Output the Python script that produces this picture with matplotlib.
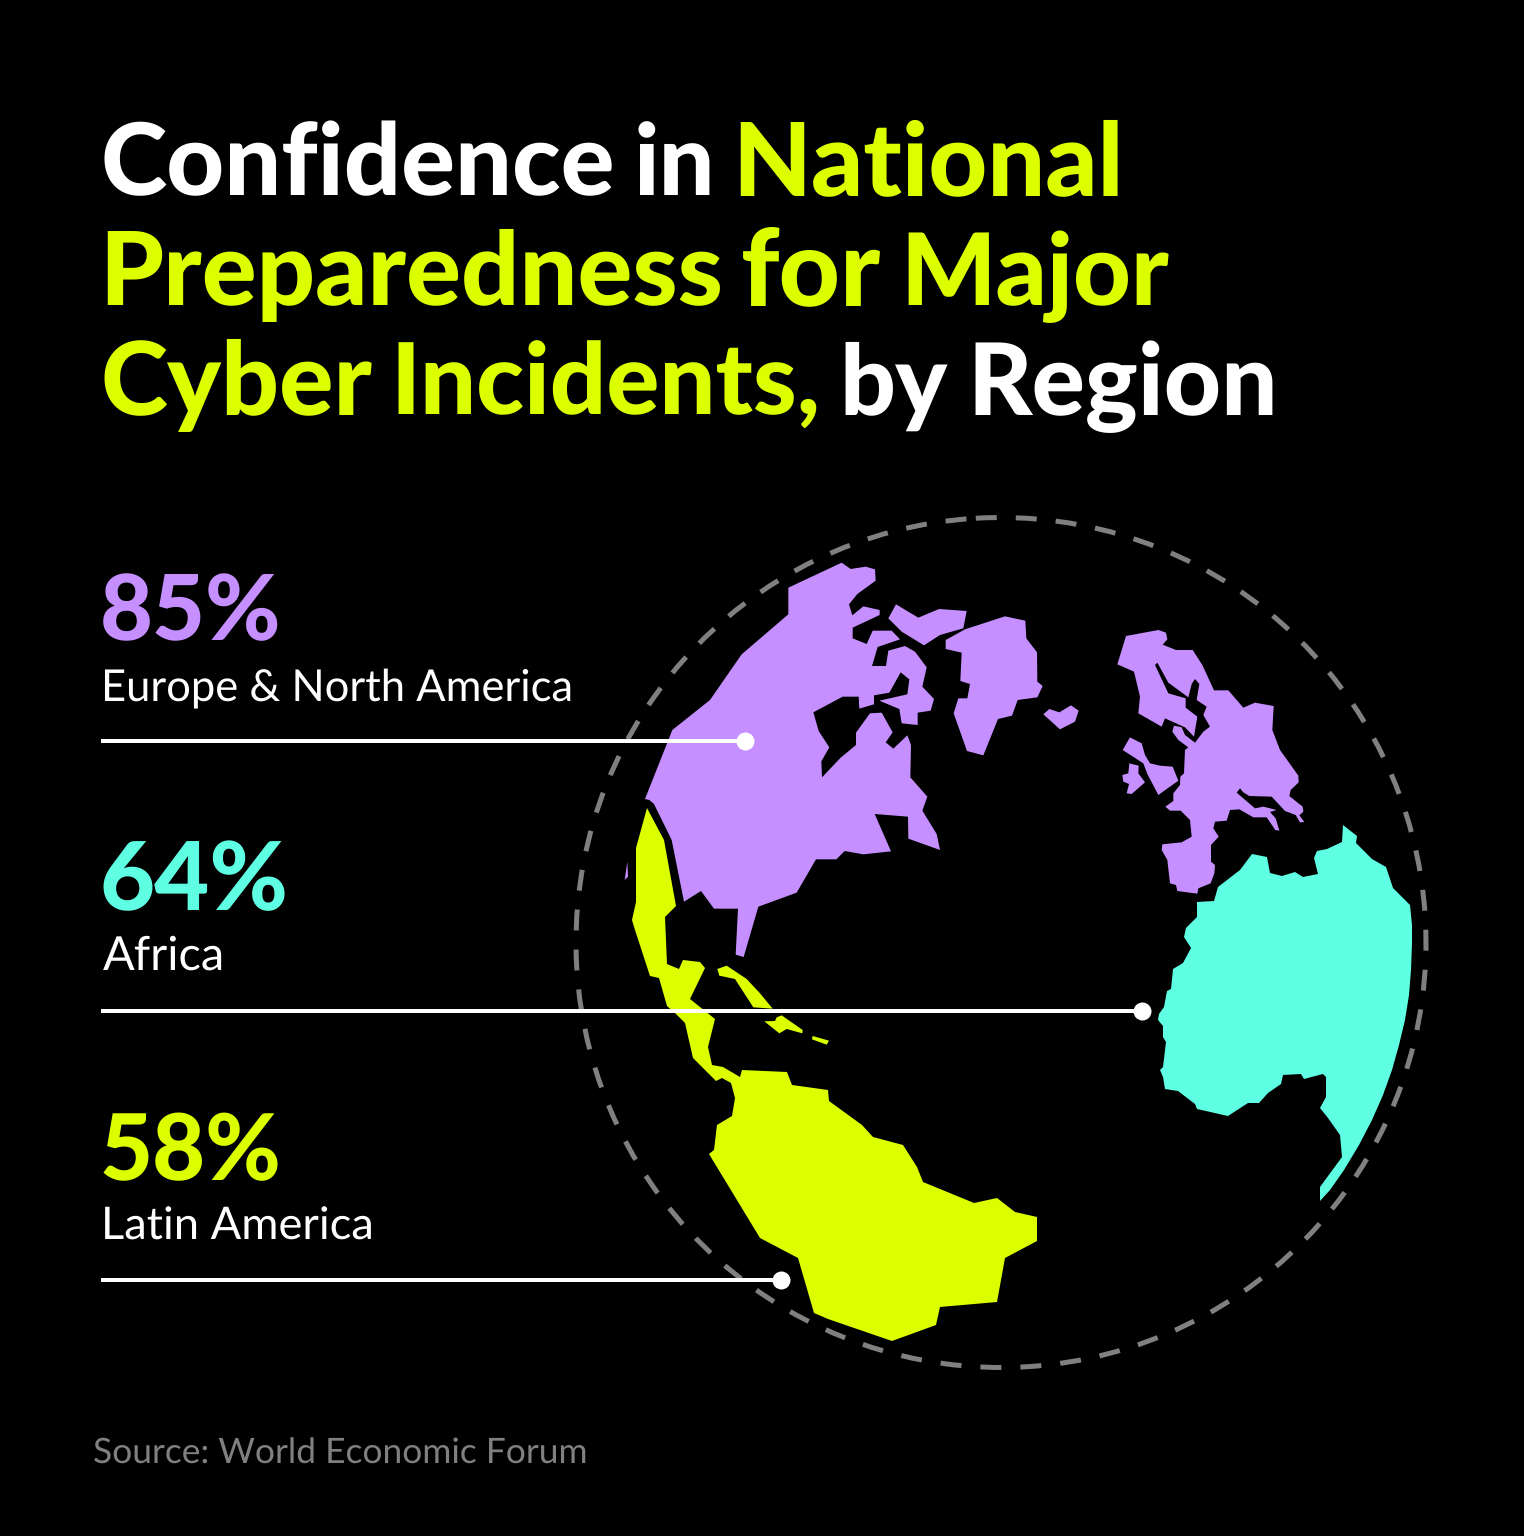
import matplotlib
matplotlib.use('Agg')

import matplotlib.pyplot as plt
from matplotlib.font_manager import FontProperties
from matplotlib.patches import Ellipse, Polygon
from matplotlib.textpath import TextPath

plt.rcParams['font.family'] = ['Lato', 'DejaVu Sans']
plt.rcParams['text.hinting'] = 'no_hinting'

W, H = 1524, 1536
PX = 0.72  # points per pixel at dpi 100

BLACK = '#000000'
WHITE = '#ffffff'
PURPLE = '#c58fff'
TEAL = '#5fffe4'
LIME = '#dcff00'
GREY = '#808080'

regions = ['Europe & North America', 'Africa', 'Latin America']
confidence = [85, 64, 58]
region_colors = [PURPLE, TEAL, LIME]
source = 'Source: World Economic Forum'

# word, left, right, baseline, colour
title_words = [
    ('Confidence', 104, 612, 195, WHITE), ('in', 638, 710, 195, WHITE), ('National', 740, 1118, 195, LIME),
    ('Preparedness', 107, 720, 305, LIME), ('for', 743, 881, 305, LIME), ('Major', 908, 1169, 305, LIME),
    ('Cyber', 104, 372, 415, LIME), ('Incidents,', 398, 817, 415, LIME), ('by', 845, 948, 415, WHITE),
    ('Region', 975, 1273, 415, WHITE),
]

# map outlines (zoomed crops, 3x)
def crop(pts, x0, y0):
    return [(x / 3 + x0, y / 3 + y0) for x, y in pts]

north_america = crop([
    (505,113),(665,38),(692,57),(737,50),(765,58),(767,92),(712,132),(687,163),(697,196),(730,169),
    (779,180),(779,195),(698,233),(698,265),(740,282),(758,242),(815,242),(840,268),(773,291),(756,348),
    (798,348),(805,302),(855,288),(885,305),(920,352),(907,410),(942,447),(932,482),(893,488),(893,525),
    (845,520),(838,477),(778,452),(862,433),(868,388),(842,367),(808,428),(762,436),(762,463),(718,476),
    (716,440),(668,440),(580,487),(596,543),(628,592),(604,634),(606,682),(662,623),(708,585),(708,548),
    (750,490),(785,488),(818,547),(797,577),(820,596),(862,556),(873,585),(871,682),(922,740),(907,782),
    (950,852),(960,900),(865,866),(864,800),(764,792),(813,904),(730,913),(674,903),(649,928),(588,928),
    (530,1028),(415,1070),(371,1221),(347,1214),(354,1076),(282,1076),(243,1023),(192,1055),(155,870),
    (102,762),(88,750),(75,747),(157,540),(270,450),(365,313),(505,193),
], 620, 550)
baffin = crop([
    (805,205),(828,163),(895,203),(957,177),(1040,183),(1030,235),(960,255),(912,286),(845,245),
], 620, 550)
greenland = crop([
    (977,270),(1035,238),(1155,199),(1216,212),(1219,265),(1251,307),(1252,395),(1268,408),(1252,442),
    (1193,450),(1176,497),(1134,507),(1090,616),(1041,603),(1001,490),(1015,445),(1042,445),(1050,402),
    (1021,393),(1025,308),(977,297),
], 620, 550)
sliver = crop([(14,990),(22,935),(24,980)], 620, 550)
iceland = crop([(10,313),(28,297),(58,307),(93,286),(116,302),(105,335),(60,358)], 1040, 610)
europe = crop([
    (258,78),(355,60),(378,68),(382,88),(368,104),(408,120),(458,120),(487,165),(522,241),(565,241),
    (610,293),(645,278),(701,288),(697,360),(720,420),(775,497),(776,517),(752,540),(748,558),(788,590),
    (790,605),(778,616),(793,636),(780,637),(767,615),(735,603),(695,560),(628,558),(610,547),(600,535),
    (590,548),(645,595),(670,590),(710,600),(690,606),(707,625),(718,662),(706,660),(680,622),(640,622),
    (598,598),(570,600),(560,632),(525,635),(520,655),(536,680),(513,705),(513,755),(525,765),(523,790),
    (512,820),(475,835),(472,851),(412,843),(408,825),(390,820),(382,750),(365,720),(367,703),(425,697),
    (455,680),(450,630),(422,602),(390,602),(376,590),(400,573),(400,550),(420,525),(421,500),(432,490),
    (435,420),(445,412),(415,390),(397,365),(402,347),(425,352),(435,375),(465,398),(490,365),(510,350),
    (490,315),(500,290),(470,270),(478,222),(465,207),(455,222),(445,262),(385,218),(352,158),(345,165),
    (385,250),(437,265),(437,293),(472,320),(462,380),(435,352),(375,325),(365,350),(295,310),(300,260),
    (282,185),(232,163),
], 1040, 610)
britain = crop([
    (248,420),(270,382),(305,400),(315,435),(330,460),(360,467),(398,470),(415,512),(355,555),(322,492),(310,460),
], 1040, 610)
ireland = crop([
    (268,460),(296,467),(295,490),(315,517),(275,552),(260,550),(267,522),(250,515),(247,495),(265,490),
], 1040, 610)
africa = [
    (1197,902),(1214,901),(1218,887),(1240,870),(1252,854),(1267,857),(1270,873),(1282,876),(1295,872),
    (1303,877),(1318,874),(1314,858),(1317,851),(1327,849),(1342,842),(1343,825),(1357,836),(1356,843),
    (1372,859),(1386,867),(1393,888),(1410,905),(1412,925),(1412,943),(1411,970),(1409,995),(1405,1020),
    (1399,1045),(1392,1070),(1383,1095),(1372,1120),(1359,1145),(1344,1170),(1330,1190),(1320,1201),
    (1320,1187),(1342,1157),(1340,1135),(1328,1118),(1320,1108),
    (1326,1097),(1326,1077),(1323,1074),(1304,1079),(1301,1074),(1283,1075),(1281,1084),(1268,1093),
    (1259,1103),(1248,1103),(1228,1116),(1197,1109),(1195,1104),(1178,1091),(1165,1089),(1163,1077),
    (1160,1070),(1163,1067),(1166,1042),(1163,1037),(1163,1026),(1158,1020),(1159,1014),(1164,1007),
    (1167,991),(1171,989),(1173,969),(1183,963),(1191,948),(1184,937),(1186,928),(1197,917),
]
latin_america = [
    (647,808),(664,840),(676,906),(665,917),(667,964),(679,969),(683,960),(700,962),(705,968),(690,999),
    (715,1019),(708,1047),(712,1065),(723,1067),(740,1077),(742,1070),(787,1072),(792,1085),(828,1090),
    (829,1101),(862,1125),(873,1137),(903,1145),(917,1167),(923,1182),(974,1203),(997,1198),(1015,1212),
    (1037,1217),(1037,1241),(1005,1258),(997,1302),(940,1307),(936,1325),(892,1341),(828,1319),(814,1313),
    (798,1258),(760,1238),(709,1154),(714,1150),(717,1125),(732,1116),(735,1098),(731,1083),(722,1078),
    (716,1081),(693,1058),(685,1023),(675,1013),(667,1006),(659,978),(650,976),(635,930),(632,920),
    (636,902),(636,848),
]
cuba = crop([(292,117),(320,107),(380,147),(420,190),(458,236),(400,232),(345,147),(298,137)], 620, 930)
hispaniola = crop([(433,274),(465,273),(470,262),(485,256),(548,300),(547,310),(500,297),(478,310)], 620, 930)
puerto_rico = crop([(578,318),(627,332),(620,344),(576,328)], 620, 930)

land = [
    (north_america, PURPLE), (baffin, PURPLE), (greenland, PURPLE), (sliver, PURPLE), (iceland, PURPLE),
    (europe, PURPLE), (britain, PURPLE), (ireland, PURPLE), (africa, TEAL), (latin_america, LIME),
    (cuba, LIME), (hispaniola, LIME), (puerto_rico, LIME),
]

fig = plt.figure(figsize=(W / 100, H / 100), dpi=100, facecolor=BLACK)
ax = fig.add_axes([0, 0, 1, 1])
ax.set_xlim(0, W)
ax.set_ylim(H, 0)
ax.axis('off')


def fit_text(s, left, right, base, color, weight, zorder=5):
    # pick the font size that makes the inked width of s run from left to right
    prop = FontProperties(family='Lato', weight=weight)
    ext = TextPath((0, 0), s, size=100, prop=prop).get_extents()
    px = 100 * (right - left) / ext.width
    ax.text(left - ext.x0 * px / 100, base, s, color=color, fontproperties=prop, fontsize=px * PX,
            ha='left', va='baseline', zorder=zorder)


# dashed orbit, the dash pattern starts just left of the top (small seam there)
ax.add_patch(Ellipse((1001, 942.5), 850, 850, angle=-3.4, fill=False, edgecolor=GREY,
                     linewidth=5 * PX, linestyle=(0, (4.2, 3.8)), capstyle='butt', zorder=1))

for pts, col in land:
    ax.add_patch(Polygon(pts, closed=True, facecolor=col, edgecolor='none', zorder=2))

for word, x0, x1, y, col in title_words:
    fit_text(word, x0, x1, y, col, 'black')

pct_right = [278, 285, 278]
label_left = [105, 103, 105]
label_right = [571, 222, 371]
pct_base = [640, 910, 1180]
label_base = [700, 970, 1240]
line_y = [741, 1011, 1280]
dot_x = [745, 1142, 781]
for i, name in enumerate(regions):
    fit_text(f'{confidence[i]}%', 103, pct_right[i], pct_base[i], region_colors[i], 'black')
    fit_text(name, label_left[i], label_right[i], label_base[i], WHITE, 'normal')
    ax.plot([101, dot_x[i]], [line_y[i], line_y[i]], color=WHITE, linewidth=4 * PX,
            solid_capstyle='butt', zorder=4)
    ax.plot(dot_x[i], line_y[i], 'o', color=WHITE, markersize=18 * PX, markeredgewidth=0, zorder=4)

fit_text(source, 94, 585, 1464, GREY, 'normal')

fig.savefig('out.png', dpi=100, facecolor=BLACK)
plt.close(fig)
